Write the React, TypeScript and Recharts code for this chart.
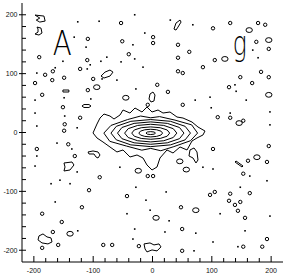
import { ReferenceDot, Scatter, ScatterChart, XAxis, YAxis } from "recharts";

type Pt = [number, number];

// minor ticks every 20, labels every 100
const TICKS = [
  -200, -180, -160, -140, -120, -100, -80, -60, -40, -20, 0, 20, 40, 60, 80, 100,
  120, 140, 160, 180, 200,
];
const DOMAIN: [number, number] = [-220, 220];

// central source, contour levels from the peak outwards
const level1: Pt[] = [
  [5, -1], [2.7, 0.8], [-3, 1.5], [-8.7, 0.8], [-11, -1], [-8.7, -2.8], [-3, -3.5], [2.7, -2.8],
];
const level2: Pt[] = [
  [17, -1], [14.3, 2.3], [7, 4.6], [-3, 5.5], [-13, 4.6], [-20.3, 2.3], [-23, -1],
  [-20.3, -4.3], [-13, -6.6], [-3, -7.5], [7, -6.6], [14.3, -4.3],
];
const level3: Pt[] = [
  [29, -1], [24.7, 4.3], [13, 8.1], [-3, 9.5], [-19, 8.1], [-30.7, 4.3], [-35, -1],
  [-30.7, -6.3], [-19, -10.1], [-3, -11.5], [13, -10.1], [24.7, -6.3],
];
const level4: Pt[] = [
  [41, -1], [35, 6.5], [19, 12], [-3, 14], [-25, 12], [-41, 6.5], [-47, -1],
  [-41, -8.5], [-25, -14], [-3, -16], [19, -14], [35, -8.5],
];
const level5: Pt[] = [
  [53, -1], [45.5, 8.5], [25, 15.5], [-3, 18], [-31, 15.5], [-51.5, 8.5], [-59, -1],
  [-51.5, -10.5], [-31, -17.5], [-3, -20], [25, -17.5], [45.5, -10.5],
];
const level6: Pt[] = [
  [64, -1], [55, 10.5], [30.5, 19], [-3, 22], [-36.5, 19], [-61, 10.5], [-70, -1],
  [-61, -12.5], [-36.5, -21], [-3, -24], [30.5, -21], [55, -12.5],
];
const level7: Pt[] = [
  [76, -1], [66, 13], [38, 21], [12, 27], [-3, 25], [-20, 28], [-42, 22], [-70, 12],
  [-82, -1], [-72, -15], [-44, -23], [-18, -30], [-3, -27], [14, -31], [36, -24], [64, -14],
];
const level8: Pt[] = [
  [-100.3, -0.8], [-93.6, 14.4], [-88.5, 24.6], [-81.8, 31.4], [-71.7, 28], [-64.9, 22.9],
  [-54.8, 29.7], [-49.7, 38.2], [-38, 33.1], [-29.5, 41.6], [-17.7, 34.8], [-9.3, 43.3],
  [-0.8, 34.8], [9.3, 38.2], [17.7, 33.1], [29.5, 34.8], [41.3, 26.3], [51.4, 24.6],
  [66.6, 17.8], [76.7, 9.3], [88.5, 2.5], [85.1, -4.2], [75, -9.3], [66.6, -14.4],
  [58.2, -29.7], [46.4, -24.6], [34.6, -34.8], [24.4, -29.7], [12.6, -43.3], [7.6, -58.6],
  [-0.8, -63.7], [-9.3, -55.2], [-16, -43.3], [-26.1, -38.2], [-37.9, -41.6], [-49.7, -29.7],
  [-59.9, -33.1], [-71.7, -24.6], [-83.5, -16.1], [-93.6, -9.3],
];

// larger noise patches
const patchTopLeft: Pt[] = [[-198, 199.5], [-183, 197.8], [-181, 189.3], [-190, 187.6], [-196, 191], [-190, 194.4]];
const patchHook: Pt[] = [[-194.7, 179.1], [-188, 177.4], [-186.3, 169], [-191.4, 165.6], [-198.1, 167.3], [-193, 170.6], [-193, 175.7]];
const patchDiag: Pt[] = [[-86.8, 95.9], [-80.1, 102.6], [-71.7, 106.1], [-66.6, 102.6], [-71.7, 95.9], [-81.8, 92.5]];
const patchBar: Pt[] = [[-151, 72.2], [-141, 72.2], [-141, 68.8], [-151, 68.8]];
const patchFlat: Pt[] = [[-118.9, 45], [-115.5, 47.5], [-107.1, 47.5], [-103.7, 45], [-107.1, 42.5], [-115.5, 42.5]];
const patchNorth: Pt[] = [[36.2, 175.7], [39.6, 185.9], [46.4, 191], [48.1, 187.6], [43, 179.1], [39.6, 174]];
const patchAbove: Pt[] = [[-4.2, 65.4], [0.8, 68.8], [4.2, 63.7], [2.5, 53.5], [-2.5, 51.8], [-5.9, 56.9]];
const patchWest: Pt[] = [[-108.7, -33.1], [-100.3, -31.4], [-91.9, -33.1], [-88.5, -38.2], [-91.9, -43.3], [-95.3, -41.6], [-98.6, -36.5], [-107.1, -36.5]];
const patchSW: Pt[] = [[-149.2, -51.8], [-135.7, -50.1], [-132.4, -55.2], [-139.1, -63.7], [-149.2, -65.4], [-147.5, -58.6]];
const patchCorner: Pt[] = [[-191.4, -175.7], [-184.6, -172.3], [-177.9, -177.4], [-171.1, -179.1], [-169.4, -185.9], [-176.2, -189.3], [-186.3, -187.6], [-193, -182.5]];
const patchStroke: Pt[] = [[140.8, -48.4], [152.6, -56.9], [150.9, -58.6], [139.1, -50.1]];
const patchSouth: Pt[] = [[-14.3, -189.3], [-4.2, -187.6], [2.5, -191], [11, -189.3], [14.3, -194.4], [7.6, -201.2], [-0.8, -199.5], [-9.3, -202.9], [-12.6, -197.8]];
const patchEast: Pt[] = [[63.2, -29.7], [70, -26.3], [75, -33.1], [76.7, -46.7], [73.3, -51.8], [68.3, -43.3], [61.5, -39.9]];

// small closed noise peaks
const smallPeaks: Pt[] = [
  [-53, 186], [-109, 159], [-51, 155], [-191, 128], [-110, 123], [-40, 133], [-168, 104],
  [-122, 108], [-181, 98], [-169, 89], [-149, 93], [-100, 91], [-198, 84], [-109, 72],
  [-186, 64], [-151, 43], [-122, 25], [-148, 14], [-149, 3],
  [102, 177], [131, 186], [178, 186], [190, 183], [1, 162], [1, 152], [43, 149], [62, 137],
  [43, 127], [105, 123], [175, 154], [196, 142], [85, 111], [43, 104], [51, 101], [148, 94],
  [183, 103], [196, 94], [8, 81], [129, 77], [168, 84], [-8, 47], [26, 69], [51, 47],
  [110, 26], [131, 25], [153, 20],
  [-195, -28], [-142, -20], [-131, -40], [-89, -76], [-107, -98], [-43, -108], [-119, -127],
  [-186, -138], [-153, -152], [-168, -169], [-159, -191], [-186, -196], [-83, -191],
  [-68, -191], [-23, -193],
  [102, -28], [196, -23], [193, -50], [161, -48], [153, -70], [-8, -74], [1, -74],
  [105, -101], [97, -106], [131, -104], [164, -103], [129, -116], [139, -123], [148, -118],
  [144, -133], [48, -127], [156, -145], [50, -164], [193, -181], [185, -194], [153, -194],
  [50, -201],
];
const widePeaks: Pt[] = [
  [-94, 77], [-45, 59], [163, 174], [122, 125], [196, 157], [196, 64], [146, 16],
  [-24, -65], [-139, -172], [176, -42], [73, -132], [6, -145], [57, -63], [46, -49],
];
// single-pixel specks
const specks: Pt[] = [
  [-126, 188], [-90, 189], [-30, 200], [-132, 162], [-33, 149], [-112, 145], [-151, 121],
  [-87, 121], [-77, 128], [-30, 125], [-53, 120], [-105, 115], [-164, 110], [-110, 108],
  [-195, 101], [-85, 91], [-60, 89], [-28, 74], [-149, 59], [-104, 57], [-198, 55],
  [-198, 33], [-148, 28], [-195, 11], [-127, 8],
  [30, 191], [68, 183], [-13, 169], [169, 140], [178, 127], [-16, 111], [139, 81], [141, 70],
  [72, 55], [97, 60], [99, 42], [158, 55], [198, 35], [198, 13], [131, 33],
  [-195, -40], [-161, -18], [-136, -28], [-198, -57], [-127, -67], [-156, -81], [-171, -87],
  [-139, -87], [-55, -59], [-28, -93], [-164, -118], [-43, -138], [-126, -167], [-30, -164],
  [-33, -181],
  [102, -62], [85, -59], [164, -74], [148, -93], [193, -82], [23, -101], [-11, -115],
  [-4, -132], [28, -150], [114, -138], [198, -142], [73, -171], [21, -169], [156, -167],
  [102, -186], [144, -194], [70, -201],
];

const CONTOURS = [
  level1, level2, level3, level4, level5, level6, level7, level8,
  patchTopLeft, patchHook, patchDiag, patchBar, patchFlat, patchNorth, patchAbove,
  patchWest, patchSW, patchCorner, patchStroke, patchSouth, patchEast,
];

const toXY = (pts: Pt[]) => pts.map(([x, y]) => ({ x, y }));

const FONT = "'Liberation Sans', Arial, sans-serif";
const INK = "#000";

export default function App() {
  return (
    <div style={{ position: "absolute", left: 0, top: 0, width: 286, height: 278, background: "#fff" }}>
      <ScatterChart width={286} height={278} margin={{ top: 3, right: 3, bottom: 0, left: 0 }}>
        <XAxis
          type="number"
          dataKey="x"
          domain={DOMAIN}
          ticks={TICKS}
          interval={0}
          allowDataOverflow
          height={16}
          tickSize={0}
          tickMargin={0}
          tickLine={false}
          axisLine={{ stroke: INK }}
          tick={<BottomTick />}
        />
        <XAxis
          xAxisId="top"
          orientation="top"
          type="number"
          domain={DOMAIN}
          ticks={TICKS}
          interval={0}
          allowDataOverflow
          height={0}
          tickSize={0}
          tickMargin={0}
          tickLine={false}
          axisLine={{ stroke: INK }}
          tick={<TopTick />}
        />
        <YAxis
          type="number"
          dataKey="y"
          domain={DOMAIN}
          ticks={TICKS}
          interval={0}
          allowDataOverflow
          width={22}
          tickSize={0}
          tickMargin={0}
          tickLine={false}
          axisLine={{ stroke: INK }}
          tick={<LeftTick />}
        />
        <YAxis
          yAxisId="right"
          orientation="right"
          type="number"
          domain={DOMAIN}
          ticks={TICKS}
          interval={0}
          allowDataOverflow
          width={0}
          tickSize={0}
          tickMargin={0}
          tickLine={false}
          axisLine={{ stroke: INK }}
          tick={<RightTick />}
        />

        {CONTOURS.map((c, i) => (
          <Scatter
            key={i}
            data={toXY(c)}
            fill={INK}
            line={{ stroke: INK, strokeWidth: 1 }}
            lineJointType="linearClosed"
            shape={NoMark}
            isAnimationActive={false}
          />
        ))}
        <Scatter data={toXY(smallPeaks)} shape={SmallRing} isAnimationActive={false} />
        <Scatter data={toXY(widePeaks)} shape={WideRing} isAnimationActive={false} />
        <Scatter data={toXY(specks)} shape={Speck} isAnimationActive={false} />

        <ReferenceDot x={-152} y={131.6} r={0} fill="none" stroke="none" label={<Letter text="A" len={19} />} />
        <ReferenceDot x={147} y={131.6} r={0} fill="none" stroke="none" label={<Letter text="g" len={14} />} />
      </ScatterChart>
    </div>
  );
}

function NoMark() {
  return <g />;
}

function SmallRing({ cx, cy }: { cx?: number; cy?: number }) {
  return <circle cx={cx} cy={cy} r={1.7} fill="none" stroke={INK} strokeWidth={1} />;
}

function WideRing({ cx, cy }: { cx?: number; cy?: number }) {
  return <ellipse cx={cx} cy={cy} rx={3.2} ry={2.4} fill="none" stroke={INK} strokeWidth={1} />;
}

function Speck({ cx, cy }: { cx?: number; cy?: number }) {
  return <rect x={(cx ?? 0) - 0.8} y={(cy ?? 0) - 0.8} width={1.6} height={1.6} fill={INK} />;
}

// thin sans lettering, as in the panel labels of the original
function Letter({ viewBox, text, len }: { viewBox?: any; text: string; len: number }) {
  if (!viewBox) return null;
  const x = viewBox.x + (viewBox.width ?? 0) / 2;
  const y = viewBox.y + (viewBox.height ?? 0) / 2;
  return (
    <text
      x={x}
      y={y}
      textAnchor="middle"
      fontSize={33}
      fontWeight={200}
      fontFamily="'DejaVu Sans', 'Liberation Sans', sans-serif"
      fill={INK}
      textLength={len}
      lengthAdjust="spacingAndGlyphs"
    >
      {text}
    </text>
  );
}

const isMajor = (v: number) => v % 100 === 0;

function BottomTick({ x, y, payload }: any) {
  const v = payload.value as number;
  return (
    <g>
      <line x1={x} x2={x} y1={y} y2={y - (isMajor(v) ? 6 : 4)} stroke={INK} />
      {isMajor(v) && (
        <text x={x} y={y + 10.5} textAnchor="middle" fontSize={7} fontFamily={FONT} fill="#111">
          {v}
        </text>
      )}
    </g>
  );
}

function TopTick({ x, y, payload }: any) {
  const v = payload.value as number;
  return <line x1={x} x2={x} y1={y} y2={y + (isMajor(v) ? 6 : 4)} stroke={INK} />;
}

function LeftTick({ x, y, payload }: any) {
  const v = payload.value as number;
  return (
    <g>
      <line x1={isMajor(v) ? x - 3 : x} x2={x + 4} y1={y} y2={y} stroke={INK} />
      {isMajor(v) && (
        <text x={x - 4.5} y={y + 2.5} textAnchor="end" fontSize={7} fontFamily={FONT} fill="#111">
          {v}
        </text>
      )}
    </g>
  );
}

function RightTick({ x, y, payload }: any) {
  const v = payload.value as number;
  return <line x1={x} x2={x - (isMajor(v) ? 6 : 4)} y1={y} y2={y} stroke={INK} />;
}
